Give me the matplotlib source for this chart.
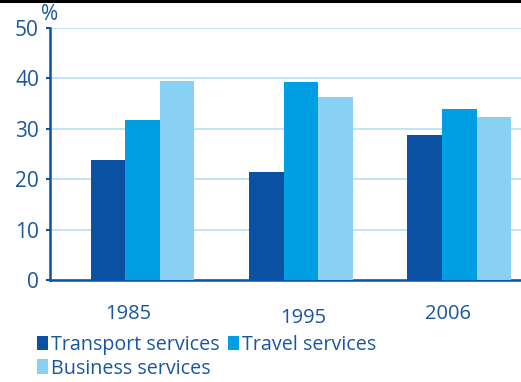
import matplotlib.pyplot as plt
import matplotlib.transforms as mtransforms
import numpy as np

plt.rcParams['font.family'] = ['Open Sans', 'DejaVu Sans']

# Shares of services exports (%)
years = ['1985', '1995', '2006']
transport = [23.8, 21.4, 28.8]
travel = [31.7, 39.3, 33.9]
business = [39.5, 36.3, 32.3]

dark = '#0a50a3'
mid = '#009fe3'
light = '#89d1f3'
text_col = '#1a56a0'

fig = plt.figure(figsize=(5.21, 3.82), dpi=100)
ax = fig.add_axes([50 / 521, 102 / 382, 471 / 521, 252 / 382])

x = np.arange(len(years))
w = 0.218
b1 = ax.bar(x - w, transport, w, color=dark, label='Transport services', zorder=3)
b2 = ax.bar(x, travel, w, color=mid, label='Travel services', zorder=3)
b3 = ax.bar(x + w, business, w, color=light, label='Business services', zorder=3)

ax.set_xlim(-0.585, 2.39)
ax.set_ylim(0, 50)
ax.set_yticks([0, 10, 20, 30, 40, 50])
ax.set_xticks(x)
ax.set_xticklabels(years)

ax.grid(axis='y', color='#bfe5f7', linewidth=1.4, zorder=0)
for s in ['top', 'right']:
    ax.spines[s].set_visible(False)
for s in ['left', 'bottom']:
    ax.spines[s].set_color(dark)
    ax.spines[s].set_linewidth(1.8)

ax.tick_params(axis='y', colors=dark, labelcolor=text_col, labelsize=15,
               length=3, width=1.5, pad=5)
ax.tick_params(axis='x', length=0, labelcolor=text_col, labelsize=14.5, pad=17)

# the year labels in the original sit a bit off the group centres
nudges = [(-14, 0), (2, -4), (-11, 0)]
for lab, (dx, dy) in zip(ax.get_xticklabels(), nudges):
    off = mtransforms.ScaledTranslation(dx / 100, dy / 100, fig.dpi_scale_trans)
    lab.set_transform(lab.get_transform() + off)

fig.text(50 / 521, 1 - 15 / 382, '%', color=text_col, fontsize=15,
         ha='center', va='center')

# black rule across the top
fig.add_artist(plt.Line2D([0, 1], [1 - 1 / 382, 1 - 1 / 382],
                          color='black', linewidth=2.2))

leg = fig.legend([b1, b3, b2],
                 ['Transport services', 'Business services', 'Travel services'],
                 ncol=2, loc='upper left', bbox_to_anchor=(37 / 521, 1 - 335 / 382),
                 frameon=False, fontsize=14.2, handlelength=0.55, handleheight=0.75,
                 handletextpad=0.15, columnspacing=0.45, labelspacing=0.18,
                 borderpad=0, borderaxespad=0)
for t in leg.get_texts():
    t.set_color(text_col)

fig.savefig('out.png', dpi=100)
